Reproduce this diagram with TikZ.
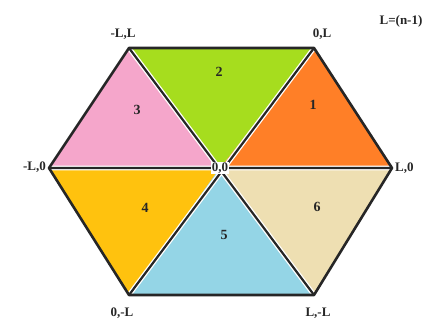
\documentclass[tikz,border=0pt]{standalone}
\usepackage{fontspec}
\setmainfont{Liberation Serif}
\definecolor{cOne}{HTML}{FF7F27}
\definecolor{cTwo}{HTML}{A6DD1E}
\definecolor{cThree}{HTML}{F5A6CB}
\definecolor{cFour}{HTML}{FFC20E}
\definecolor{cFive}{HTML}{94D5E6}
\definecolor{cSix}{HTML}{EEDFB2}
\tikzset{
  lbl/.style={font=\fontsize{13}{15}\selectfont\bfseries, text=black!85, inner sep=1pt},
  num/.style={font=\fontsize{14}{16}\selectfont\bfseries, text=black!85, inner sep=1pt},
  edge/.style={line width=2.6pt, black!85, line cap=round, line join=round},
  halo/.style={line width=4.8pt, white},
}
\begin{document}
\begin{tikzpicture}[x=1pt,y=-1pt]
\useasboundingbox (0,0) rectangle (441,324);
\fill[white] (0,0) rectangle (441,324);
\coordinate (C) at (220,168);
\coordinate (R) at (392,168);
\coordinate (TR) at (314,48);
\coordinate (TL) at (129,48);
\coordinate (Lf) at (49,168);
\coordinate (BL) at (129,295);
\coordinate (BR) at (314,295);
\fill[cOne] (C) -- (R) -- (TR) -- cycle;
\fill[cTwo] (C) -- (TR) -- (TL) -- cycle;
\fill[cThree] (C) -- (TL) -- (Lf) -- cycle;
\fill[cFour] (C) -- (Lf) -- (BL) -- cycle;
\fill[cFive] (C) -- (BL) -- (BR) -- cycle;
\fill[cSix] (C) -- (BR) -- (R) -- cycle;
\draw[halo] (Lf) -- (R) (TL) -- (BR) (TR) -- (BL);
\draw[edge, line width=2.2pt] (Lf) -- (R) (TL) -- (BR) (TR) -- (BL);
\draw[edge] (R) -- (TR) -- (TL) -- (Lf) -- (BL) -- (BR) -- cycle;
\node[lbl, fill=white, inner sep=1pt] (c0) at (220,168) {0,0};
\node[lbl] (lTL) at (123,34) {-L,L};
\node[lbl] (lTR) at (322,34) {0,L};
\node[lbl, anchor=east] (lL) at (47,167) {-L,0};
\node[lbl, anchor=west] (lR) at (394,168) {L,0};
\node[lbl] (lBL) at (122,313) {0,-L};
\node[lbl] (lBR) at (318,313) {L,-L};
\node[lbl] (eq) at (401,21) {L=(n-1)};
\node[num] (n1) at (313,105) {1};
\node[num] (n2) at (219,72) {2};
\node[num] (n3) at (137,110) {3};
\node[num] (n4) at (145,208) {4};
\node[num] (n5) at (224,235) {5};
\node[num] (n6) at (317,207) {6};
\end{tikzpicture}
\end{document}
